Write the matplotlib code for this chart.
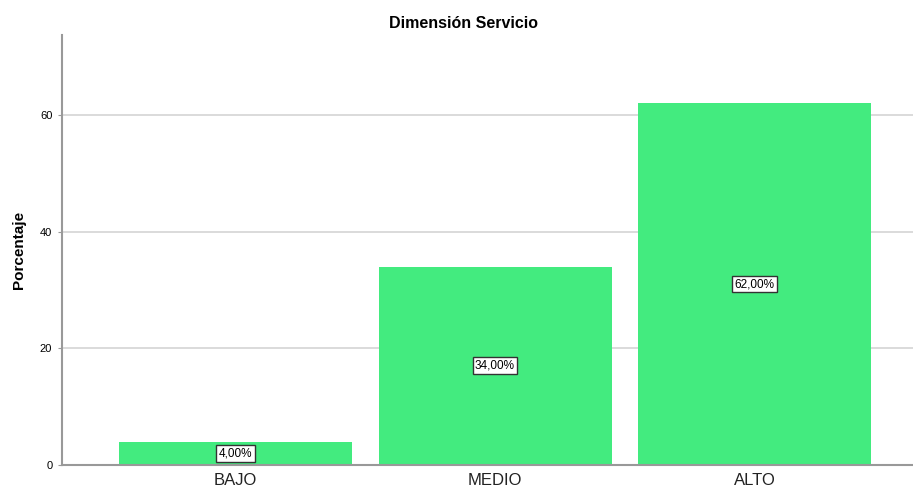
import matplotlib
matplotlib.use("Agg")
import matplotlib.pyplot as plt
import numpy as np

# Datos
categorias = ["BAJO", "MEDIO", "ALTO"]
porcentajes = [4.0, 34.0, 62.0]
etiquetas = ["4,00%", "34,00%", "62,00%"]
yticks = [0, 20, 40, 60]

plt.rcParams["font.family"] = ["Liberation Sans", "DejaVu Sans"]

fig = plt.figure(figsize=(9.13, 4.88), dpi=100)
ax = fig.add_axes([62 / 913, 1 - 465 / 488, 1 - 62 / 913, (465 - 35) / 488])

x = np.arange(len(categorias))
ax.bar(x, porcentajes, width=0.898, color="#43EB7F", zorder=2)

for xi, v, lab in zip(x, porcentajes, etiquetas):
    ax.text(xi, v / 2, lab, ha="center", va="center", fontsize=8.5, zorder=3,
            bbox=dict(boxstyle="square,pad=0.2", fc="white", ec="#333333", lw=1.0))

ax.set_xlim(-0.669, 2.611)
ax.set_ylim(0, 73.7)
ax.set_yticks(yticks)
ax.set_yticklabels([str(t) for t in yticks], fontsize=8)
ax.set_xticks(x)
ax.set_xticklabels(categorias, fontsize=12, color="#222222")
ax.tick_params(axis="x", length=0, pad=6)
ax.tick_params(axis="y", length=3, color="#999999", pad=4)
ax.yaxis.grid(True, color="#d4d4d4", lw=1.2, zorder=1)
ax.set_axisbelow(True)

for s in ["top", "right"]:
    ax.spines[s].set_visible(False)
for s in ["left", "bottom"]:
    ax.spines[s].set_color("#999999")
    ax.spines[s].set_linewidth(1.5)

ax.set_ylabel("Porcentaje", fontsize=11, fontweight="bold", labelpad=10)
fig.text(463 / 913, 1 - 23 / 488, "Dimensión Servicio", ha="center", va="center",
         fontsize=11.5, fontweight="bold")

fig.savefig("out.png", dpi=100)
